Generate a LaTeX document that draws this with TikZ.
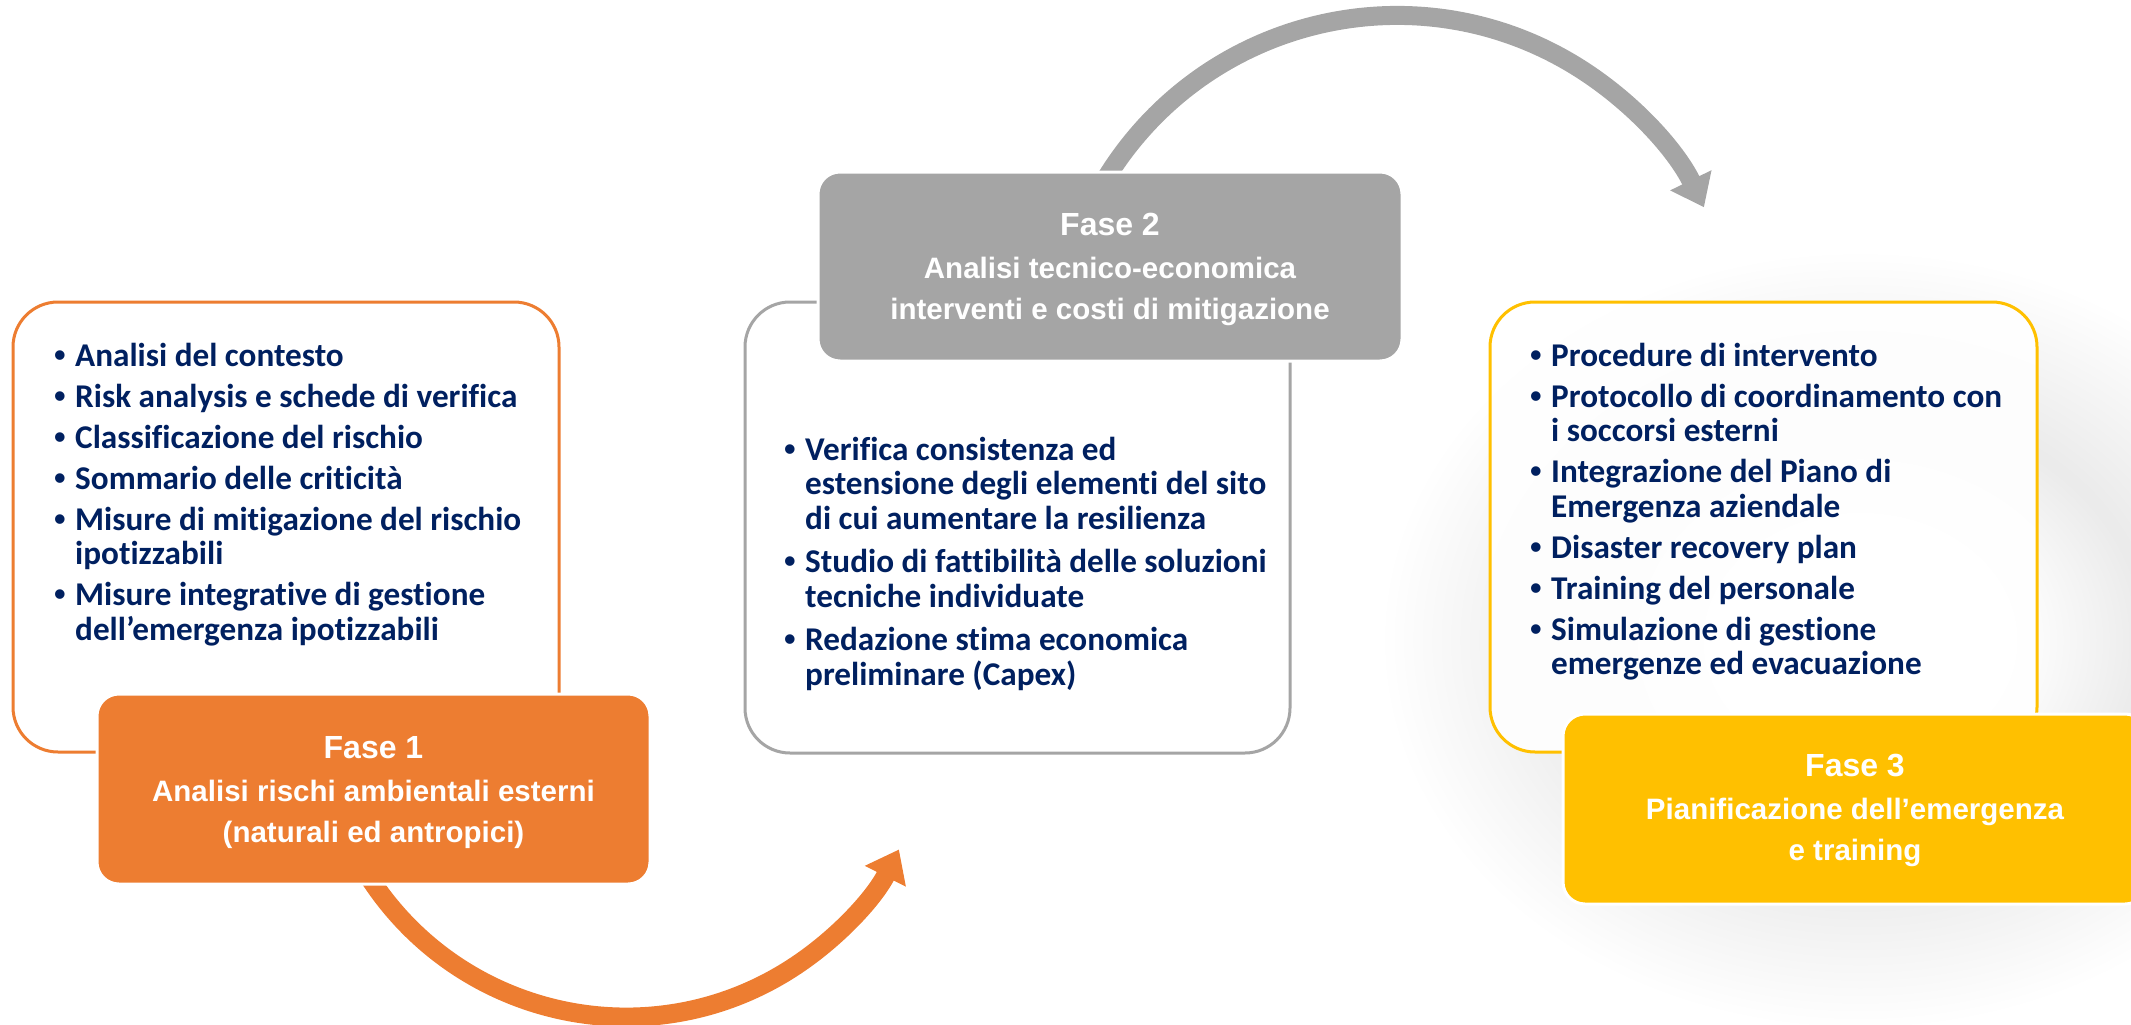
\documentclass[tikz,border=0pt]{standalone}
\usepackage{fontspec}
\setmainfont{Carlito}[Ligatures=CommonOff]
\newfontfamily\titlefont{Liberation Sans}
\usetikzlibrary{arrows.meta}

\definecolor{navy}{HTML}{002060}
\definecolor{phaseorange}{HTML}{ED7D31}
\definecolor{phasegray}{HTML}{A5A5A5}
\definecolor{phaseyellow}{HTML}{FFC000}

% soft ring used for the faded plate in the background
\pgfdeclareradialshading{platering}{\pgfpoint{0bp}{0bp}}{%
  color(0bp)=(white); color(8bp)=(white); color(15bp)=(black!8);
  color(20bp)=(black!4); color(25bp)=(white); color(50bp)=(white)}

\newcommand\bul{\makebox[21pt][l]{\titlefont\textbullet}}
\newcommand\ind{\hspace*{21pt}}
\newcommand\firstline{\rule{0pt}{26pt}}

\tikzset{
  outlinebox/.style={draw, line width=3pt, rounded corners=45pt, fill=white,
    fill opacity=0.9, inner sep=0pt},
  phasebox/.style={draw=white, line width=3pt, rounded corners=22pt, inner sep=0pt},
  bullets/.style={anchor=north west, inner sep=0pt, align=left, text=navy,
    font=\fontsize{33.2}{34.5}\selectfont\bfseries},
  phasetitle/.style={anchor=north, inner sep=0pt, align=center, text=white,
    font=\titlefont\bfseries\fontsize{29.5}{41}\selectfont},
  cyclearrow/.style={line width=19pt, -{Triangle[length=30pt,width=44pt]}},
}

\begin{document}
\begin{tikzpicture}[x=1pt,y=-1pt]
\useasboundingbox (0,0) rectangle (2131,1025);

% faded plate behind the third phase
\shade[shading=platering] (1860,640) ellipse [x radius=480pt, y radius=390pt];

% outline panels
\node[outlinebox, draw=phaseorange, minimum width=546pt, minimum height=450pt] (p1) at (286,527) {};
\node[outlinebox, draw=phasegray, minimum width=545pt, minimum height=451pt] (p2) at (1017.5,527.5) {};
\node[outlinebox, draw=phaseyellow, minimum width=547pt, minimum height=450pt] (p3) at (1763.5,527) {};

% cycle arrows
\coordinate (a1) at (369.4,877.7);
\draw[cyclearrow, phaseorange] (a1) arc[start angle=213, end angle=333.1, radius=306pt] coordinate (a1end);
\coordinate (a2) at (1107.4,176.0);
\draw[cyclearrow, phasegray] (a2) arc[start angle=148, end angle=26, radius=341.5pt] coordinate (a2end);

% phase headers
\node[phasebox, fill=phaseorange, minimum width=553pt, minimum height=190pt] (f1) at (373.5,789) {};
\node[phasebox, fill=phasegray, minimum width=584pt, minimum height=189pt] (f2) at (1110,266.5) {};
\node[phasebox, fill=phaseyellow, minimum width=584pt, minimum height=190pt] (f3) at (1855,809) {};

\node[phasetitle] (t1) at (373.5,732) {\firstline{\fontsize{32}{41}\selectfont Fase 1}\\[2pt]
  Analisi rischi ambientali esterni\\(naturali ed antropici)};
\node[phasetitle] (t2) at (1110,209) {\firstline{\fontsize{32}{41}\selectfont Fase 2}\\[2pt]
  Analisi tecnico-economica\\interventi e costi di mitigazione};
\node[phasetitle] (t3) at (1855,750) {\firstline{\fontsize{32}{41}\selectfont Fase 3}\\[2pt]
  Pianificazione dell’emergenza\\e training};

% activity lists
\node[bullets] (l1) at (54,340) {\firstline\bul Analisi del contesto\\[6.5pt]
  \bul Risk analysis e schede di verifica\\[6.5pt]
  \bul Classificazione del rischio\\[6.5pt]
  \bul Sommario delle criticità\\[6.5pt]
  \bul Misure di mitigazione del rischio\\
  \ind ipotizzabili\\[6.5pt]
  \bul Misure integrative di gestione\\
  \ind dell’emergenza ipotizzabili};

\node[bullets] (l2) at (784,434) {\firstline\bul Verifica consistenza ed\\
  \ind estensione degli elementi del sito\\
  \ind di cui aumentare la resilienza\\[9pt]
  \bul Studio di fattibilità delle soluzioni\\
  \ind tecniche individuate\\[9pt]
  \bul Redazione stima economica\\
  \ind preliminare (Capex)};

\node[bullets] (l3) at (1530,340) {\firstline\bul Procedure di intervento\\[6.5pt]
  \bul Protocollo di coordinamento con\\
  \ind i soccorsi esterni\\[6.5pt]
  \bul Integrazione del Piano di\\
  \ind Emergenza aziendale\\[6.5pt]
  \bul Disaster recovery plan\\[6.5pt]
  \bul Training del personale\\[6.5pt]
  \bul Simulazione di gestione\\
  \ind emergenze ed evacuazione};
\end{tikzpicture}
\end{document}
